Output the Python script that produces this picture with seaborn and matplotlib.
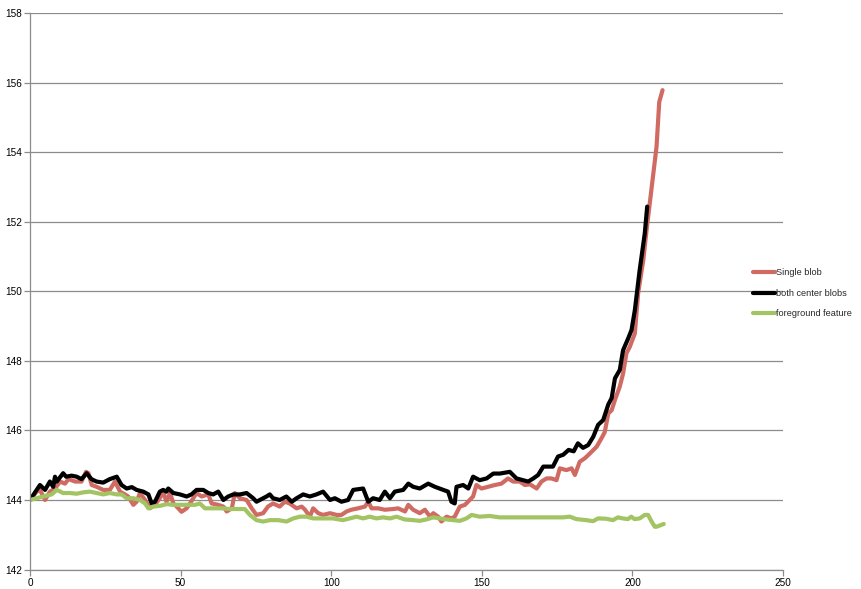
import matplotlib
matplotlib.use("Agg")
import matplotlib.pyplot as plt
import seaborn as sns
import pandas as pd

# ---- data ----
black_x = [0, 3.3, 5, 6.6, 7.7, 8.3, 8.9, 11, 12, 13.8, 15.5, 17.1, 18.8, 20.4, 22.1, 24.3,
           26.5, 28.8, 30.4, 32.1, 33.8, 35.4, 37.6, 39.3, 40.4, 41.5, 43.1, 44.2, 45.3, 45.9,
           47.6, 49.8, 52, 53.6, 55.3, 57.5, 59.2, 60.8, 62.5, 64.2, 65.8, 67.5, 69.7, 71.9,
           74.1, 75.2, 77.4, 78.5, 79.6, 80.7, 82.9, 85.1, 86.9, 88.5, 90.7, 92.9, 95.1, 97.3,
           99.6, 101.2, 103.4, 105.6, 107.3, 110.6, 112.3, 113.9, 116.1, 117.8, 119.5, 121.1,
           123.9, 125.6, 127.2, 129.4, 132.2, 134.4, 137.2, 138.8, 139.9, 141, 141.6, 143.8,
           145.5, 147.1, 149.3, 151.6, 153.8, 156, 159.3, 161.5, 165.4, 167.1, 168.7, 170.4,
           173.6, 175.3, 177, 178.8, 180.5, 181.9, 183.6, 185.3, 187, 188.6, 190.3, 192, 193.1,
           194.2, 195.8, 196.9, 198.6, 199.7, 200.8, 202.4, 204.1, 204.9]
black_y = [144.0, 144.43, 144.29, 144.53, 144.38, 144.67, 144.53, 144.77, 144.67, 144.7, 144.67,
           144.6, 144.77, 144.6, 144.53, 144.5, 144.6, 144.67, 144.43, 144.33, 144.37, 144.29,
           144.24, 144.16, 143.9, 143.95, 144.24, 144.29, 144.24, 144.33, 144.2, 144.16, 144.1,
           144.16, 144.29, 144.29, 144.2, 144.16, 144.24, 144.0, 144.1, 144.16, 144.16, 144.2,
           144.05, 143.95, 144.05, 144.1, 144.16, 144.05, 144.0, 144.1, 143.95, 144.05, 144.16,
           144.1, 144.16, 144.24, 144.0, 144.05, 143.95, 144.0, 144.29, 144.33, 143.95, 144.05,
           144.0, 144.24, 144.05, 144.24, 144.29, 144.47, 144.38, 144.33, 144.47, 144.38, 144.29,
           144.24, 143.95, 143.9, 144.38, 144.43, 144.33, 144.67, 144.57, 144.62, 144.76, 144.76,
           144.81, 144.62, 144.53, 144.62, 144.72, 144.96, 144.96, 145.25, 145.3, 145.44, 145.4,
           145.63, 145.5, 145.58, 145.82, 146.16, 146.3, 146.75, 146.93, 147.5, 147.74, 148.31,
           148.65, 148.89, 149.46, 150.61, 151.67, 152.44]

red_x = [0, 2.2, 3.3, 5, 6.6, 8.3, 10, 11.6, 12.8, 15, 17.1, 18.6, 19.4, 20.5, 22.1, 24.3, 26.5,
         28.2, 29.9, 31.5, 32.6, 34.3, 35.4, 36.5, 38.2, 39.8, 41.5, 43.1, 44.2, 45.3, 46.5,
         47.6, 48.7, 50.3, 52, 53.1, 55.3, 57, 59.2, 60.3, 62.5, 64.2, 65.3, 67, 68, 69.7, 71.9,
         73.6, 75.2, 77.4, 79, 80.7, 82.9, 84.6, 86.2, 88.5, 90.2, 91.3, 92.9, 94, 95.7, 97.3,
         99.6, 101.8, 103.4, 105.1, 106.7, 108.9, 111.2, 112.3, 113.4, 115.6, 117.8, 120.6,
         122.2, 124.5, 125.6, 127.2, 129.4, 131.1, 132.8, 133.9, 135.5, 136.6, 138.3, 139.9,
         141, 142.7, 144.4, 146, 147.1, 148.2, 149.9, 152.1, 154.3, 156.5, 158.7, 160.4, 162.6,
         164.3, 166, 168.2, 169.8, 171.5, 173.1, 174.8, 175.9, 178.1, 179.8, 180.9, 182.5,
         184.2, 185.9, 188.1, 189.7, 190.8, 192, 193.1, 194.2, 195.8, 196.9, 198, 199.1, 200.8,
         201.9, 203.6, 204.7, 206.3, 208, 208.9, 210]
red_y = [144.0, 144.24, 144.29, 144.0, 144.24, 144.33, 144.53, 144.47, 144.6, 144.53, 144.53,
         144.81, 144.77, 144.43, 144.38, 144.29, 144.29, 144.53, 144.24, 144.16, 144.1, 143.86,
         143.95, 144.2, 144.0, 143.76, 143.86, 144.05, 144.24, 143.95, 144.2, 143.9, 143.81,
         143.66, 143.76, 143.9, 144.2, 144.1, 144.16, 143.9, 143.86, 143.81, 143.67, 143.76,
         144.2, 144.05, 144.0, 143.76, 143.57, 143.62, 143.81, 143.9, 143.81, 143.95, 143.9,
         143.76, 143.81, 143.72, 143.52, 143.76, 143.62, 143.57, 143.62, 143.57, 143.57, 143.67,
         143.72, 143.76, 143.81, 143.95, 143.76, 143.76, 143.72, 143.74, 143.76, 143.67, 143.86,
         143.72, 143.62, 143.72, 143.52, 143.62, 143.52, 143.38, 143.52, 143.47, 143.52, 143.81,
         143.86, 144.0, 144.1, 144.43, 144.33, 144.38, 144.43, 144.47, 144.62, 144.53, 144.53,
         144.43, 144.45, 144.33, 144.53, 144.62, 144.62, 144.57, 144.91, 144.86, 144.91, 144.72,
         145.1, 145.2, 145.34, 145.53, 145.77, 145.95, 146.49, 146.58, 146.88, 147.26, 147.64,
         148.22, 148.4, 148.79, 149.95, 150.9, 151.77, 152.92, 154.16, 155.45, 155.79]

green_x = [0, 4.4, 7.2, 8.9, 11, 13.3, 15.5, 17.7, 19.9, 22.1, 24.3, 26.5, 28.8, 30.4, 32.1,
           34.3, 36.5, 38.2, 39.3, 40.9, 43.1, 45.3, 47.6, 50.3, 52.5, 54.8, 56.4, 58.1, 60.8,
           63.6, 66.4, 69.1, 71.3, 73, 75.2, 77.4, 79.6, 82.4, 85.2, 87.4, 89.6, 91.8, 94, 97.3,
           100.6, 103.9, 106.2, 108.4, 110.6, 112.8, 115, 117.2, 119.5, 121.7, 124.4, 127.2,
           129.4, 131.6, 133.9, 136.1, 138.3, 140.5, 142.7, 144.9, 146.6, 149.3, 152.6, 155.9,
           160.4, 165.9, 171.5, 177, 179.2, 181.4, 184.7, 186.9, 188.6, 191.3, 193.5, 195.2,
           196.8, 198.5, 199.6, 200.7, 202.4, 204.1, 205.2, 206.3, 207.4, 208, 210.4]
green_y = [144.0, 144.1, 144.16, 144.29, 144.2, 144.2, 144.18, 144.22, 144.24, 144.2, 144.16,
           144.2, 144.16, 144.16, 144.05, 144.05, 144.0, 143.9, 143.76, 143.81, 143.83, 143.88,
           143.86, 143.86, 143.86, 143.86, 143.9, 143.76, 143.76, 143.76, 143.74, 143.74, 143.74,
           143.57, 143.42, 143.38, 143.42, 143.42, 143.38, 143.47, 143.52, 143.52, 143.47, 143.47,
           143.47, 143.42, 143.47, 143.52, 143.47, 143.52, 143.47, 143.5, 143.47, 143.52, 143.44,
           143.42, 143.4, 143.44, 143.5, 143.47, 143.44, 143.42, 143.4, 143.47, 143.57, 143.52,
           143.54, 143.5, 143.5, 143.5, 143.5, 143.5, 143.52, 143.45, 143.42, 143.39, 143.47,
           143.46, 143.42, 143.5, 143.47, 143.45, 143.52, 143.45, 143.47, 143.57, 143.57, 143.39,
           143.23, 143.23, 143.31]

series_names = ["Single blob", "both center blobs", "foreground feature"]
x_ticks = [0, 50, 100, 150, 200, 250]
y_ticks = [142, 144, 146, 148, 150, 152, 154, 156, 158]

# ---- build long table ----
df = pd.concat([
    pd.DataFrame({"x": red_x, "y": red_y, "series": series_names[0]}),
    pd.DataFrame({"x": black_x, "y": black_y, "series": series_names[1]}),
    pd.DataFrame({"x": green_x, "y": green_y, "series": series_names[2]}),
], ignore_index=True)

sns.set_style("white")
plt.rcParams["font.family"] = ["Liberation Sans", "DejaVu Sans"]

fig = plt.figure(figsize=(8.62, 5.89), dpi=100)
ax = fig.add_axes([0.0348, 0.0331, 0.9084 - 0.0348, 0.9774 - 0.0331])

palette = {series_names[0]: "#d06b63", series_names[1]: "#000000", series_names[2]: "#a3c462"}
sns.lineplot(data=df, x="x", y="y", hue="series", palette=palette, sort=False,
             estimator=None, linewidth=3.0, ax=ax, legend=True)

ax.set_xlim(0, 250)
ax.set_ylim(142, 158)
ax.set_xticks(x_ticks)
ax.set_yticks(y_ticks)
ax.set_xlabel("")
ax.set_ylabel("")
ax.grid(axis="y", color="#8c8c8c", linewidth=0.9)
ax.set_axisbelow(True)
for s in ["top", "right"]:
    ax.spines[s].set_visible(False)
for s in ["left", "bottom"]:
    ax.spines[s].set_color("#8c8c8c")
    ax.spines[s].set_linewidth(0.9)
ax.tick_params(axis="both", which="both", direction="out", length=4, width=0.9,
               color="#8c8c8c", labelsize=7.2, labelcolor="#000000", pad=2,
               bottom=True, left=True)

handles, labels = ax.get_legend_handles_labels()
leg = ax.legend(handles, labels, loc="center left", bbox_to_anchor=(0.874, 0.502),
                bbox_transform=fig.transFigure, frameon=False, fontsize=6.6,
                handlelength=2.4, handletextpad=0.1, labelspacing=1.25, borderaxespad=0,
                borderpad=0)
for line in leg.get_lines():
    line.set_linewidth(3.0)

fig.savefig("out.png", dpi=100)
